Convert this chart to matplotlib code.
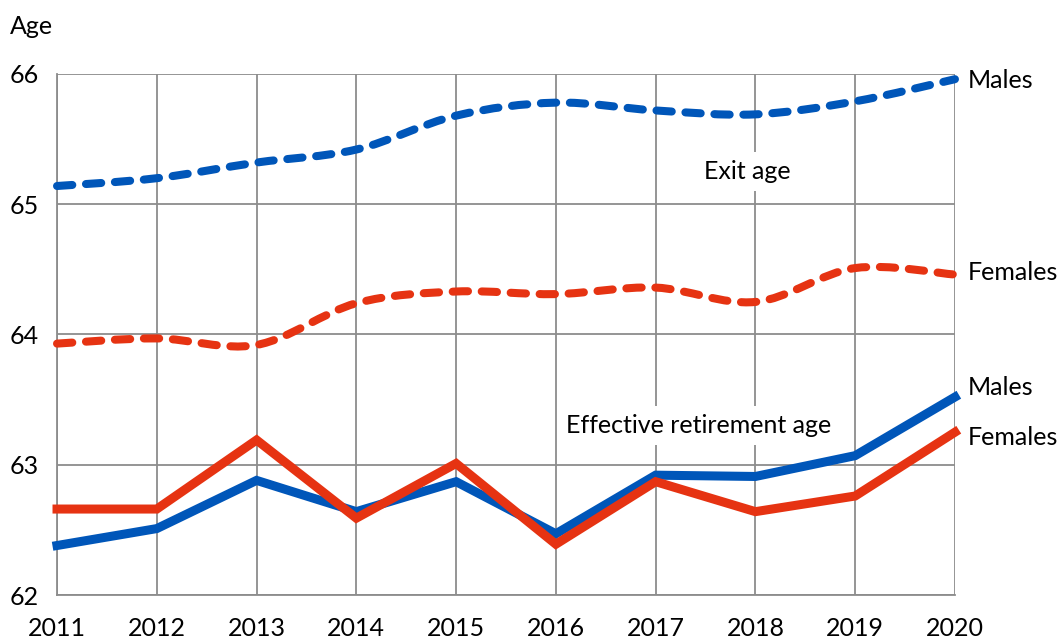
import numpy as np
import matplotlib
matplotlib.use("Agg")
import matplotlib.pyplot as plt
from matplotlib.path import Path
from matplotlib.patches import PathPatch

plt.rcParams['font.family'] = ['Lato', 'DejaVu Sans']

years = [2011, 2012, 2013, 2014, 2015, 2016, 2017, 2018, 2019, 2020]
exit_males = [65.14, 65.20, 65.32, 65.42, 65.68, 65.78, 65.72, 65.69, 65.79, 65.96]
exit_females = [63.93, 63.97, 63.92, 64.24, 64.33, 64.31, 64.36, 64.25, 64.51, 64.46]
eff_males = [62.38, 62.51, 62.88, 62.64, 62.87, 62.47, 62.92, 62.91, 63.07, 63.52]
eff_females = [62.66, 62.66, 63.19, 62.59, 63.01, 62.39, 62.87, 62.64, 62.76, 63.25]

BLUE = '#0056b9'
RED = '#e63312'
GRID = '#8c8c8c'
FS = 18


def smooth_path(x, y):
    """Catmull-Rom style cubic Bezier through the points."""
    x = np.asarray(x, float)
    y = np.asarray(y, float)
    verts = [(x[0], y[0])]
    codes = [Path.MOVETO]
    n = len(x)
    t = 1.0 / 6.0
    for i in range(n - 1):
        x0, y0 = (x[i - 1], y[i - 1]) if i > 0 else (x[i], y[i])
        x3, y3 = (x[i + 2], y[i + 2]) if i + 2 < n else (x[i + 1], y[i + 1])
        c1 = (x[i] + (x[i + 1] - x0) * t, y[i] + (y[i + 1] - y0) * t)
        c2 = (x[i + 1] - (x3 - x[i]) * t, y[i + 1] - (y3 - y[i]) * t)
        verts += [c1, c2, (x[i + 1], y[i + 1])]
        codes += [Path.CURVE4] * 3
    return Path(verts, codes)


fig = plt.figure(figsize=(10.62, 6.4), dpi=100)
ax = fig.add_axes([0.0537, 0.0703, 0.8455, 0.8141])
ax.set_xlim(2011, 2020)
ax.set_ylim(62, 66)

ax.set_xticks(years)
ax.set_yticks([62, 63, 64, 65, 66])
ax.grid(True, color=GRID, linewidth=1.3)
ax.set_axisbelow(True)
for side in ['top', 'right']:
    ax.spines[side].set_visible(False)
for side in ['left', 'bottom']:
    ax.spines[side].set_color(GRID)
    ax.spines[side].set_linewidth(1.3)
ax.tick_params(length=0, labelsize=FS)
ax.tick_params(axis='x', pad=16)
ax.tick_params(axis='y', pad=13)

# Exit age (dashed, smoothed)
for vals, col in [(exit_males, BLUE), (exit_females, RED)]:
    patch = PathPatch(smooth_path(years, vals), facecolor='none', edgecolor=col,
                      linewidth=5.8, linestyle=(0, (1.9, 1.7)), capstyle='round',
                      joinstyle='round', clip_on=False, zorder=4)
    ax.add_patch(patch)

# Effective retirement age (solid)
ax.plot(years, eff_males, color=BLUE, linewidth=6.5, solid_joinstyle='miter',
        clip_on=False, zorder=5)
ax.plot(years, eff_females, color=RED, linewidth=6.5, solid_joinstyle='miter',
        clip_on=False, zorder=6)

# Series labels at the right end
label_kw = dict(fontsize=FS, ha='left', va='center', textcoords='offset points',
                annotation_clip=False)
ax.annotate('Males', xy=(years[-1], exit_males[-1]), xytext=(9, -1), **label_kw)
ax.annotate('Females', xy=(years[-1], exit_females[-1]), xytext=(9, 1.5), **label_kw)
ax.annotate('Males', xy=(years[-1], eff_males[-1]), xytext=(9, 7), **label_kw)
ax.annotate('Females', xy=(years[-1], eff_females[-1]), xytext=(9, -3.5), **label_kw)

box = dict(facecolor='white', edgecolor='none', pad=6)
ax.text(2017.92, 65.25, 'Exit age', fontsize=FS, ha='center', va='center',
        bbox=box, zorder=3)
ax.text(2017.43, 63.30, 'Effective retirement age', fontsize=FS, ha='center',
        va='center', bbox=box, zorder=3)

fig.text(0.009, 0.959, 'Age', fontsize=FS, ha='left', va='center')

fig.savefig('out.png', dpi=100)
